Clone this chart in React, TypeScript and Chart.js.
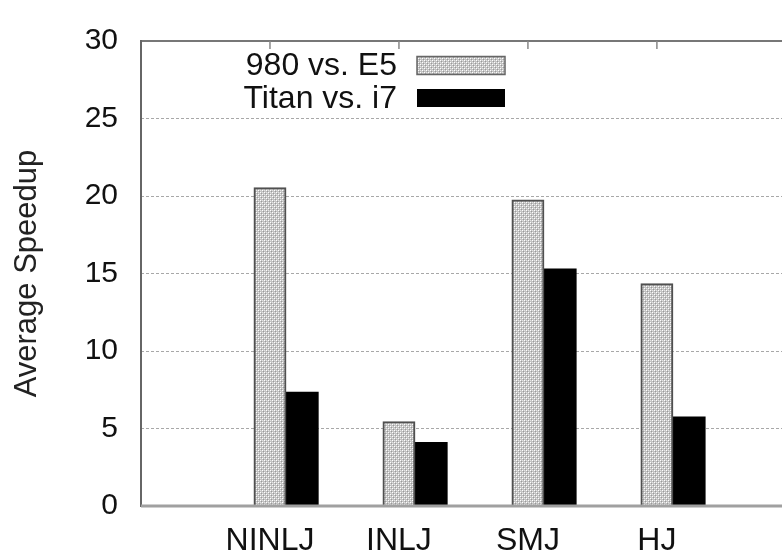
import React, { useEffect, useRef } from 'react';
import { Chart, registerables } from 'chart.js';

Chart.register(...registerables);

const categories = ['NINLJ', 'INLJ', 'SMJ', 'HJ'];
const seriesLabels = ['980 vs. E5', 'Titan vs. i7'];
const series980E5 = [20.55, 5.45, 19.75, 14.35];
const seriesTitanI7 = [7.35, 4.1, 15.3, 5.75];
const yTickValues = [0, 5, 10, 15, 20, 25, 30];

const FONT = '"Liberation Sans", Arial, Helvetica, sans-serif';
const BAR_SLOT = 0.25; // width of one bar in x units

function makePattern(): CanvasPattern | string {
  const c = document.createElement('canvas');
  c.width = 4;
  c.height = 4;
  const g = c.getContext('2d');
  if (!g) return '#ccc';
  g.fillStyle = '#c2c2c2';
  g.fillRect(0, 0, 4, 4);
  g.fillStyle = '#ffffff';
  g.fillRect(0, 0, 1, 1);
  g.fillRect(2, 2, 1, 1);
  g.fillStyle = '#e4e4e4';
  g.fillRect(2, 0, 1, 1);
  g.fillRect(0, 2, 1, 1);
  g.fillStyle = '#9a9a9a';
  g.fillRect(1, 1, 1, 1);
  g.fillRect(3, 3, 1, 1);
  const p = g.createPattern(c, 'repeat');
  return p || '#ccc';
}

const framePlugin = {
  id: 'frame',
  afterDatasetsDraw(chart: any) {
    const { ctx, chartArea } = chart;
    const { left, right, top, bottom } = chartArea;
    const xs = chart.scales.x;
    ctx.save();
    ctx.strokeStyle = '#777';
    ctx.lineWidth = 2;
    ctx.beginPath();
    ctx.moveTo(left, top);
    ctx.lineTo(right + 2, top);
    ctx.stroke();
    ctx.lineWidth = 1.5;
    ctx.strokeStyle = '#888';
    xs.ticks.forEach((t: any) => {
      const px = xs.getPixelForValue(t.value);
      ctx.beginPath();
      ctx.moveTo(px, top);
      ctx.lineTo(px, top + 8);
      ctx.stroke();
    });
    ctx.strokeStyle = '#666';
    ctx.lineWidth = 2;
    ctx.beginPath();
    ctx.moveTo(left, top - 1);
    ctx.lineTo(left, bottom + 1);
    ctx.stroke();
    ctx.strokeStyle = '#a0a0a0';
    ctx.lineWidth = 3;
    ctx.beginPath();
    ctx.moveTo(left, bottom);
    ctx.lineTo(right + 2, bottom);
    ctx.stroke();
    ctx.restore();
  },
};

const legendPlugin = {
  id: 'insideLegend',
  afterDraw(chart: any) {
    const { ctx, chartArea } = chart;
    const textRight = chartArea.left + 256;
    const boxLeft = chartArea.left + 276;
    const boxW = 88;
    const boxH = 18;
    ctx.save();
    ctx.font = `32px ${FONT}`;
    ctx.textAlign = 'right';
    ctx.textBaseline = 'middle';
    chart.data.datasets.forEach((ds: any, i: number) => {
      const cy = chartArea.top + 24.5 + i * 32.5;
      ctx.fillStyle = '#111';
      ctx.fillText(ds.label, textRight, cy + 1);
      ctx.fillStyle = ds.backgroundColor;
      ctx.fillRect(boxLeft, cy - boxH / 2, boxW, boxH);
      if (ds.borderWidth > 0) {
        ctx.strokeStyle = '#666';
        ctx.lineWidth = 1.5;
        ctx.strokeRect(boxLeft, cy - boxH / 2, boxW, boxH);
      }
    });
    ctx.restore();
  },
};

export default function App() {
  const ref = useRef<HTMLCanvasElement | null>(null);

  useEffect(() => {
    document.body.style.margin = '0';
    const canvas = ref.current;
    if (!canvas) return;
    const pattern = makePattern();
    const chart = new Chart(canvas, {
      type: 'bar',
      data: {
        datasets: [
          {
            label: seriesLabels[0],
            data: series980E5.map((v, i) => ({ x: i + 1, y: v })),
            backgroundColor: pattern as any,
            borderColor: '#505050',
            borderWidth: 2,
          },
          {
            label: seriesLabels[1],
            data: seriesTitanI7.map((v, i) => ({ x: i + 1 + BAR_SLOT, y: v })),
            backgroundColor: '#000000',
            borderColor: '#000000',
            borderWidth: 0,
          },
        ],
      },
      options: {
        animation: false,
        responsive: false,
        maintainAspectRatio: false,
        layout: { padding: { top: 20, left: 0, right: 0, bottom: 0 } },
        datasets: {
          bar: { grouped: false, barPercentage: 1, categoryPercentage: 1 },
        } as any,
        plugins: {
          legend: { display: false },
          tooltip: { enabled: false },
        },
        scales: {
          x: {
            type: 'linear',
            offset: false,
            min: 0,
            max: 4.97,
            afterBuildTicks: (scale: any) => {
              scale.ticks = categories.map((_, i) => ({ value: i + 1 }));
            },
            afterFit: (scale: any) => {
              scale.height = 51;
            },
            ticks: {
              autoSkip: false,
              maxRotation: 0,
              padding: 16,
              color: '#111',
              font: { family: FONT, size: 32 },
              callback: (value: any) => categories[Number(value) - 1] ?? '',
            },
            grid: { display: false, drawTicks: false, offset: false },
            border: { display: false },
          },
          y: {
            type: 'linear',
            min: 0,
            max: 30,
            afterBuildTicks: (scale: any) => {
              scale.ticks = yTickValues.map((v) => ({ value: v }));
            },
            afterFit: (scale: any) => {
              scale.width = 141;
            },
            ticks: {
              padding: 23,
              color: '#111',
              font: { family: FONT, size: 30 },
            },
            grid: {
              drawTicks: false,
              lineWidth: 1,
              color: (c: any) =>
                c.tick && (c.tick.value === 0 || c.tick.value === 30) ? 'rgba(0,0,0,0)' : '#a8a8a8',
            },
            border: { display: false, dash: [3, 2] },
            title: {
              display: true,
              text: 'Average Speedup',
              color: '#222',
              font: { family: FONT, size: 31 },
              padding: { top: 9, bottom: 0 },
            },
          },
        },
      },
      plugins: [framePlugin, legendPlugin],
    });
    return () => chart.destroy();
  }, []);

  return (
    <div style={{ width: 782, height: 557 }}>
      <canvas ref={ref} width={782} height={557} style={{ display: 'block' }} />
    </div>
  );
}
